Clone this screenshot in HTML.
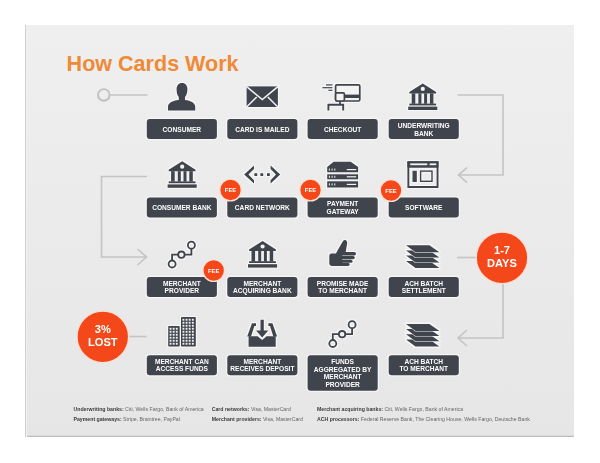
<!DOCTYPE html>
<html><head><meta charset="utf-8">
<style>
html,body{margin:0;padding:0;background:#fff;width:600px;height:463px;overflow:hidden;}
body{position:relative;font-family:"Liberation Sans",sans-serif;}
#slide{position:absolute;left:25px;top:25px;width:549.2px;height:411.7px;background:linear-gradient(to bottom,#efefef,#e6e6e6);box-shadow:inset 1px 0 0 #cfcfcf, inset 2px 0 0 #f1f1f1, inset 0 -1.2px 0 #bcbcbc;}
svg{position:absolute;left:0;top:0;}
.t{position:absolute;color:#fff;font-weight:bold;font-size:6.6px;line-height:7.4px;text-align:center;display:flex;align-items:center;justify-content:center;}
.title{position:absolute;left:66.6px;top:52px;font-size:21.55px;font-weight:bold;color:#ef8a36;white-space:nowrap;line-height:24px;}
.ft{position:absolute;font-size:5.2px;color:#666;white-space:nowrap;line-height:6px;}
.ft b{color:#3a3a3a;}
.big{position:absolute;color:#fff;font-weight:bold;font-size:11.1px;line-height:12.6px;text-align:center;}
.fee{position:absolute;color:#fff;font-weight:bold;font-size:5.8px;line-height:6px;text-align:center;width:20px;}
</style></head>
<body>
<div id="slide"></div>
<svg width="600" height="463" viewBox="0 0 600 463">
  <g fill="none" stroke="#c4c4c4" stroke-width="1.6">
    <circle cx="103.8" cy="94.9" r="5.8" stroke="#c0c0c0" stroke-width="1.9"/>
    <line x1="109.6" y1="95" x2="147.6" y2="95"/>
    <polyline points="457.5,95 503,95 503,175 458.5,175"/>
    <polyline points="467,167.6 458.5,175 467,182.6"/>
    <polyline points="147,176.5 101.5,176.5 101.5,257 146.5,257"/>
    <polyline points="137.5,249 146.5,257 137.5,265"/>
    <line x1="457" y1="257.5" x2="478" y2="257.5"/>
    <polyline points="503,282 503,338 458,338"/>
    <polyline points="467,330 458,338 467,346"/>
    <line x1="127" y1="336.5" x2="146.5" y2="336.5"/>
  </g>
  <!-- buttons -->
  <g fill="#f5f5f5">
    <rect x="145.5" y="117.6" width="72.7" height="22.6" rx="4.2"/>
    <rect x="226.0" y="117.6" width="72.7" height="22.6" rx="4.2"/>
    <rect x="306.3" y="117.6" width="72.7" height="22.6" rx="4.2"/>
    <rect x="387.4" y="117.6" width="72.7" height="22.6" rx="4.2"/>
    <rect x="145.5" y="196.2" width="72.7" height="22.6" rx="4.2"/>
    <rect x="226.0" y="196.2" width="72.7" height="22.6" rx="4.2"/>
    <rect x="306.3" y="196.2" width="72.7" height="22.6" rx="4.2"/>
    <rect x="387.4" y="196.2" width="72.7" height="22.6" rx="4.2"/>
    <rect x="145.5" y="275.8" width="72.7" height="22.6" rx="4.2"/>
    <rect x="226.0" y="275.8" width="72.7" height="22.6" rx="4.2"/>
    <rect x="306.3" y="275.8" width="72.7" height="22.6" rx="4.2"/>
    <rect x="387.4" y="275.8" width="72.7" height="22.6" rx="4.2"/>
    <rect x="145.5" y="353.9" width="72.7" height="22.6" rx="4.2"/>
    <rect x="226.0" y="353.9" width="72.7" height="22.6" rx="4.2"/>
    <rect x="306.3" y="353.9" width="72.7" height="38.2" rx="4.2"/>
    <rect x="387.4" y="353.9" width="72.7" height="22.6" rx="4.2"/>
  </g>
  <g fill="#40444c">
    <rect x="146.8" y="118.9" width="70.1" height="20.0" rx="3"/>
    <rect x="227.3" y="118.9" width="70.1" height="20.0" rx="3"/>
    <rect x="307.6" y="118.9" width="70.1" height="20.0" rx="3"/>
    <rect x="388.7" y="118.9" width="70.1" height="20.0" rx="3"/>
    <rect x="146.8" y="197.5" width="70.1" height="20.0" rx="3"/>
    <rect x="227.3" y="197.5" width="70.1" height="20.0" rx="3"/>
    <rect x="307.6" y="197.5" width="70.1" height="20.0" rx="3"/>
    <rect x="388.7" y="197.5" width="70.1" height="20.0" rx="3"/>
    <rect x="146.8" y="277.1" width="70.1" height="20.0" rx="3"/>
    <rect x="227.3" y="277.1" width="70.1" height="20.0" rx="3"/>
    <rect x="307.6" y="277.1" width="70.1" height="20.0" rx="3"/>
    <rect x="388.7" y="277.1" width="70.1" height="20.0" rx="3"/>
    <rect x="146.8" y="355.2" width="70.1" height="20.0" rx="3"/>
    <rect x="227.3" y="355.2" width="70.1" height="20.0" rx="3"/>
    <rect x="307.6" y="355.2" width="70.1" height="35.6" rx="3"/>
    <rect x="388.7" y="355.2" width="70.1" height="20.0" rx="3"/>
  </g>
  <defs>
  <filter id="halo" x="-10%" y="-10%" width="120%" height="120%" color-interpolation-filters="sRGB">
    <feMorphology in="SourceAlpha" operator="dilate" radius="1" result="d"/>
    <feGaussianBlur in="d" stdDeviation="0.5" result="b"/>
    <feFlood flood-color="#f7f7f7"/>
    <feComposite in2="b" operator="in" result="w"/>
    <feMerge><feMergeNode in="w"/><feMergeNode in="SourceGraphic"/></feMerge>
  </filter>
  </defs>
  <g filter="url(#halo)">
  <!-- icons -->
  <g fill="#40444c">
    <!-- person -->
    <path d="M182 83 C185.5 83 187.5 85.6 187.4 89.5 C187.3 93 186.4 95.4 185 97 L185 100 C190.8 100.8 194.8 102.8 195.2 106.2 L195.2 110.5 L168 110.5 L168 106.2 C168.4 102.8 172.4 100.8 178.8 100 L178.8 97 C177.4 95.4 176.6 93 176.6 89.5 C176.6 85.6 178.5 83 182 83 Z"/>
    <!-- envelope -->
    <rect x="246.6" y="86.4" width="31.3" height="20.6"/>
    <!-- bank row1 -->
    <path d="M422.8 83.4 L436.1 92 L436.1 93.4 L409.3 93.4 L409.3 92 Z"/>
    <rect x="411.7" y="93.4" width="3.6" height="10.4"/>
    <rect x="418.4" y="93.4" width="3" height="10.4"/>
    <rect x="424.1" y="93.4" width="3" height="10.4"/>
    <rect x="429.9" y="93.4" width="3.5" height="10.4"/>
    <rect x="409.3" y="103.6" width="26.8" height="1.8"/>
    <rect x="408.2" y="106.6" width="29.1" height="3.4"/>
    <!-- bank row2 (consumer bank) -->
    <g transform="translate(-240.6,77.8)">
    <path d="M422.8 83.4 L436.1 92 L436.1 93.4 L409.3 93.4 L409.3 92 Z"/>
    <rect x="411.7" y="93.4" width="3.6" height="10.4"/>
    <rect x="418.4" y="93.4" width="3" height="10.4"/>
    <rect x="424.1" y="93.4" width="3" height="10.4"/>
    <rect x="429.9" y="93.4" width="3.5" height="10.4"/>
    <rect x="409.3" y="103.6" width="26.8" height="1.8"/>
    <rect x="408.2" y="106.6" width="29.1" height="3.4"/>
    </g>
    <!-- bank row3 (acquiring bank) -->
    <g transform="translate(-160.2,157.6)">
    <path d="M422.8 83.4 L436.1 92 L436.1 93.4 L409.3 93.4 L409.3 92 Z"/>
    <rect x="411.7" y="93.4" width="3.6" height="10.4"/>
    <rect x="418.4" y="93.4" width="3" height="10.4"/>
    <rect x="424.1" y="93.4" width="3" height="10.4"/>
    <rect x="429.9" y="93.4" width="3.5" height="10.4"/>
    <rect x="409.3" y="103.6" width="26.8" height="1.8"/>
    <rect x="408.2" y="106.6" width="29.1" height="3.4"/>
    </g>
    <!-- card network -->
    <path d="M244.2 174.6 L254 165.6 L254 168.9 L248.4 174.6 L254 180.3 L254 183.6 Z"/>
    <path d="M280.2 174.6 L270.6 165.6 L270.6 168.9 L276 174.6 L270.6 180.3 L270.6 183.6 Z"/>
    <rect x="254.4" y="173.2" width="2.8" height="2.8"/>
    <rect x="260.4" y="173.2" width="2.8" height="2.8"/>
    <rect x="267" y="173.2" width="2.8" height="2.8"/>
    <!-- server stack -->
    <path d="M333.6 161.8 L350.7 161.8 L358.1 166.9 L358.1 172.3 L327.2 172.3 L327.2 166.9 Z"/>
    <rect x="327.2" y="174.3" width="30.9" height="5"/>
    <rect x="327.2" y="181.3" width="30.9" height="6.2"/>
    <!-- thumbs up -->
    <path d="M335.4 254.8 C337.8 250 340.8 244.5 342.8 241.5 C343.6 240.2 344.8 239.8 345.8 240.3 C347.3 241 347.4 243 346.9 244.8 L345.6 252.6 Z"/>
    <rect x="329.3" y="253.4" width="13" height="12.5" rx="2.4"/>
    <rect x="338" y="252" width="18" height="3.5" rx="1.75"/>
    <rect x="338" y="255.9" width="16.8" height="3.4" rx="1.7"/>
    <rect x="338" y="259.7" width="14.5" height="3.1" rx="1.55"/>
    <rect x="336" y="263.1" width="13.6" height="2.8" rx="1.4"/>
    <!-- inbox -->
    <path d="M260.5 319.7 L263.8 319.7 L263.8 330.4 L268.3 330.4 L262.2 337.4 L256 330.4 L260.5 330.4 Z"/>
    <path d="M248.6 336.2 L257.6 336.2 L262.2 339.9 L266.6 336.2 L275.7 336.2 L275.7 346.8 L248.6 346.8 Z"/>
    <path d="M256 323.2 L252 323.2 L247.2 336.6 L251 336.6 L254.4 326 L256 326 Z"/>
    <path d="M268.4 323.2 L272.4 323.2 L277.1 336.6 L273.3 336.6 L270 326 L268.4 326 Z"/>
  </g>
  <!-- icon details (white / strokes) -->
  <g fill="none" stroke="#f4f4f4" stroke-width="1.5">
    <polyline points="246.6,86.6 262.3,99.6 277.9,86.6"/>
    <line x1="246.6" y1="107" x2="256.7" y2="97"/>
    <line x1="277.9" y1="107" x2="267.8" y2="97"/>
  </g>
  <g fill="#f4f4f4">
    <circle cx="422.8" cy="88.9" r="2.1"/>
    <circle cx="182.2" cy="166.7" r="2.1"/>
    <circle cx="262.6" cy="246.5" r="2.1"/>
    <!-- server dots -->
    <rect x="328.9" y="168.6" width="1" height="2"/><rect x="331.6" y="168.6" width="1" height="2"/><rect x="334.3" y="168.6" width="1" height="2"/>
    <rect x="346.8" y="169" width="9.4" height="1.2"/>
    <rect x="328.9" y="175.8" width="1" height="2"/><rect x="331.6" y="175.8" width="1" height="2"/><rect x="334.3" y="175.8" width="1" height="2"/>
    <rect x="346.8" y="176.2" width="9.4" height="1.2"/>
    <rect x="328.9" y="183.4" width="1" height="2"/><rect x="331.6" y="183.4" width="1" height="2"/><rect x="334.3" y="183.4" width="1" height="2"/>
    <rect x="346.8" y="183.8" width="9.4" height="1.2"/>
  </g>
  <!-- software window -->
  <g fill="#40444c">
    <path d="M407.4 161.3 H438.5 V187.9 H407.4 Z M409.3 167.5 V186 H436.6 V167.5 Z" fill-rule="evenodd"/>
    <path d="M407.4 161.3 H438.5 V167.5 H407.4 Z"/>
    <rect x="412.5" y="170.8" width="4.3" height="11.2"/>
  </g>
  <g fill="#f4f4f4">
    <rect x="410.2" y="163.4" width="17.1" height="1.8"/>
    <rect x="429.6" y="163.4" width="6.6" height="1.8"/>
  </g>
  <rect x="420.6" y="171.1" width="11.4" height="10.2" fill="none" stroke="#40444c" stroke-width="1.4"/>
  <!-- checkout -->
  <g fill="#f3f3f3" stroke="#40444c" stroke-width="1.7">
    <rect x="335.6" y="84.8" width="24.2" height="16.2" rx="1.4"/>
    <rect x="335.6" y="92.8" width="8.8" height="8.2" rx="1.4"/>
  </g>
  <g fill="none" stroke="#40444c">
    <line x1="340" y1="101.6" x2="340" y2="104.6" stroke-width="1.8"/>
    <path d="M328.4 110.4 V104.8 H343.2 V110.4" stroke-width="1.9"/>
    <line x1="326" y1="84.9" x2="332.4" y2="84.9" stroke-width="1.2"/>
    <line x1="322.4" y1="87.7" x2="332.4" y2="87.7" stroke-width="1.2"/>
    <line x1="328.4" y1="90.3" x2="332.4" y2="90.3" stroke-width="1.2"/>
  </g>
  <rect x="344.4" y="94.6" width="15.4" height="3.4" fill="#40444c"/>
  <!-- nodes icons -->
  <g fill="none" stroke="#40444c" stroke-width="1.8">
    <circle cx="172.1" cy="264" r="3.5"/>
    <circle cx="181.4" cy="254.7" r="3.2"/>
    <circle cx="191.4" cy="245.2" r="3.5"/>
    <polyline points="172.1,260.5 172.1,254.7 178.2,254.7"/>
    <polyline points="184.6,254.7 191.4,254.7 191.4,248.7"/>
    <g transform="translate(160.7,79.5)">
    <circle cx="172.1" cy="264" r="3.5"/>
    <circle cx="181.4" cy="254.7" r="3.2"/>
    <circle cx="191.4" cy="245.2" r="3.5"/>
    <polyline points="172.1,260.5 172.1,254.7 178.2,254.7"/>
    <polyline points="184.6,254.7 191.4,254.7 191.4,248.7"/>
    </g>
  </g>
  <!-- layers -->
  <g>
    <path fill="#f5f5f5" d="M405.5 260.3 L429.6 260.3 L440.1 268.4 L415.1 268.4 Z"/><path fill="#40444c" d="M406.0 260.9 L429.4 260.9 L439.4 267.9 L415.5 267.9 Z"/>
    <path fill="#f5f5f5" d="M405.5 255.0 L429.6 255.0 L440.1 263.1 L415.1 263.1 Z"/><path fill="#40444c" d="M406.0 255.6 L429.4 255.6 L439.4 262.6 L415.5 262.6 Z"/>
    <path fill="#f5f5f5" d="M405.5 249.8 L429.6 249.8 L440.1 257.9 L415.1 257.9 Z"/><path fill="#40444c" d="M406.0 250.4 L429.4 250.4 L439.4 257.4 L415.5 257.4 Z"/>
    <path fill="#f5f5f5" d="M405.5 244.8 L429.6 244.8 L440.1 252.8 L415.1 252.8 Z"/><path fill="#40444c" d="M406.0 245.3 L429.4 245.3 L439.4 252.3 L415.5 252.3 Z"/>
    <g transform="translate(0,78.6)">
    <path fill="#f5f5f5" d="M405.5 260.3 L429.6 260.3 L440.1 268.4 L415.1 268.4 Z"/><path fill="#40444c" d="M406.0 260.9 L429.4 260.9 L439.4 267.9 L415.5 267.9 Z"/>
    <path fill="#f5f5f5" d="M405.5 255.0 L429.6 255.0 L440.1 263.1 L415.1 263.1 Z"/><path fill="#40444c" d="M406.0 255.6 L429.4 255.6 L439.4 262.6 L415.5 262.6 Z"/>
    <path fill="#f5f5f5" d="M405.5 249.8 L429.6 249.8 L440.1 257.9 L415.1 257.9 Z"/><path fill="#40444c" d="M406.0 250.4 L429.4 250.4 L439.4 257.4 L415.5 257.4 Z"/>
    <path fill="#f5f5f5" d="M405.5 244.8 L429.6 244.8 L440.1 252.8 L415.1 252.8 Z"/><path fill="#40444c" d="M406.0 245.3 L429.4 245.3 L439.4 252.3 L415.5 252.3 Z"/>
    </g>
  </g>
  <!-- buildings -->
  <g fill="#40444c">
    <rect x="168.2" y="326" width="11.5" height="20.5" rx="0.8"/>
    <rect x="181" y="316.9" width="14.8" height="29.6" rx="0.8"/>
  </g>
  <g fill="#f0f0f0"><rect x="169.6" y="327.8" width="1.9" height="1.9"/><rect x="172.7" y="327.8" width="1.9" height="1.9"/><rect x="175.8" y="327.8" width="1.9" height="1.9"/><rect x="169.6" y="330.8" width="1.9" height="1.9"/><rect x="172.7" y="330.8" width="1.9" height="1.9"/><rect x="175.8" y="330.8" width="1.9" height="1.9"/><rect x="169.6" y="333.8" width="1.9" height="1.9"/><rect x="172.7" y="333.8" width="1.9" height="1.9"/><rect x="175.8" y="333.8" width="1.9" height="1.9"/><rect x="169.6" y="336.8" width="1.9" height="1.9"/><rect x="172.7" y="336.8" width="1.9" height="1.9"/><rect x="175.8" y="336.8" width="1.9" height="1.9"/><rect x="169.6" y="339.8" width="1.9" height="1.9"/><rect x="172.7" y="339.8" width="1.9" height="1.9"/><rect x="175.8" y="339.8" width="1.9" height="1.9"/><rect x="169.6" y="342.8" width="1.9" height="1.9"/><rect x="172.7" y="342.8" width="1.9" height="1.9"/><rect x="175.8" y="342.8" width="1.9" height="1.9"/><rect x="182.5" y="318.8" width="1.9" height="1.9"/><rect x="185.6" y="318.8" width="1.9" height="1.9"/><rect x="188.7" y="318.8" width="1.9" height="1.9"/><rect x="191.9" y="318.8" width="1.9" height="1.9"/><rect x="182.5" y="321.8" width="1.9" height="1.9"/><rect x="185.6" y="321.8" width="1.9" height="1.9"/><rect x="188.7" y="321.8" width="1.9" height="1.9"/><rect x="191.9" y="321.8" width="1.9" height="1.9"/><rect x="182.5" y="324.8" width="1.9" height="1.9"/><rect x="185.6" y="324.8" width="1.9" height="1.9"/><rect x="188.7" y="324.8" width="1.9" height="1.9"/><rect x="191.9" y="324.8" width="1.9" height="1.9"/><rect x="182.5" y="327.8" width="1.9" height="1.9"/><rect x="185.6" y="327.8" width="1.9" height="1.9"/><rect x="188.7" y="327.8" width="1.9" height="1.9"/><rect x="191.9" y="327.8" width="1.9" height="1.9"/><rect x="182.5" y="330.8" width="1.9" height="1.9"/><rect x="185.6" y="330.8" width="1.9" height="1.9"/><rect x="188.7" y="330.8" width="1.9" height="1.9"/><rect x="191.9" y="330.8" width="1.9" height="1.9"/><rect x="182.5" y="333.8" width="1.9" height="1.9"/><rect x="185.6" y="333.8" width="1.9" height="1.9"/><rect x="188.7" y="333.8" width="1.9" height="1.9"/><rect x="191.9" y="333.8" width="1.9" height="1.9"/><rect x="182.5" y="336.8" width="1.9" height="1.9"/><rect x="185.6" y="336.8" width="1.9" height="1.9"/><rect x="188.7" y="336.8" width="1.9" height="1.9"/><rect x="191.9" y="336.8" width="1.9" height="1.9"/><rect x="182.5" y="339.8" width="1.9" height="1.9"/><rect x="185.6" y="339.8" width="1.9" height="1.9"/><rect x="188.7" y="339.8" width="1.9" height="1.9"/><rect x="191.9" y="339.8" width="1.9" height="1.9"/><rect x="182.5" y="342.8" width="1.9" height="1.9"/><rect x="185.6" y="342.8" width="1.9" height="1.9"/><rect x="188.7" y="342.8" width="1.9" height="1.9"/><rect x="191.9" y="342.8" width="1.9" height="1.9"/></g>
  </g>
  <!-- big circles -->
  <g fill="#f4481b" stroke="#fbe0d4" stroke-width="1.4">
    <circle cx="502" cy="257.8" r="25.8"/>
    <circle cx="102.8" cy="336.8" r="25.8"/>
  </g>
  <!-- fee badges -->
  <g fill="#f4481b" stroke="#fce2d6" stroke-width="1.4">
    <circle cx="230.5" cy="190" r="10.85"/>
    <circle cx="310.5" cy="190" r="10.85"/>
    <circle cx="391" cy="190.5" r="10.85"/>
    <circle cx="213.7" cy="270.5" r="10.85"/>
  </g>
</svg>

<div class="title">How Cards Work</div>


<div class="t" style="left:146.8px;top:119.7px;width:70.1px;height:20.0px;">CONSUMER</div>
<div class="t" style="left:227.3px;top:119.7px;width:70.1px;height:20.0px;">CARD IS MAILED</div>
<div class="t" style="left:307.6px;top:119.7px;width:70.1px;height:20.0px;">CHECKOUT</div>
<div class="t" style="left:388.7px;top:119.7px;width:70.1px;height:20.0px;">UNDERWRITING<br>BANK</div>
<div class="t" style="left:146.8px;top:197.5px;width:70.1px;height:20.0px;">CONSUMER BANK</div>
<div class="t" style="left:227.3px;top:197.5px;width:70.1px;height:20.0px;">CARD NETWORK</div>
<div class="t" style="left:307.6px;top:197.5px;width:70.1px;height:20.0px;">PAYMENT<br>GATEWAY</div>
<div class="t" style="left:388.7px;top:197.5px;width:70.1px;height:20.0px;">SOFTWARE</div>
<div class="t" style="left:146.8px;top:277.4px;width:70.1px;height:20.0px;">MERCHANT<br>PROVIDER</div>
<div class="t" style="left:227.3px;top:277.4px;width:70.1px;height:20.0px;">MERCHANT<br>ACQUIRING BANK</div>
<div class="t" style="left:307.6px;top:277.4px;width:70.1px;height:20.0px;">PROMISE MADE<br>TO MERCHANT</div>
<div class="t" style="left:388.7px;top:277.4px;width:70.1px;height:20.0px;">ACH BATCH<br>SETTLEMENT</div>
<div class="t" style="left:146.8px;top:355.2px;width:70.1px;height:20.0px;">MERCHANT CAN<br>ACCESS FUNDS</div>
<div class="t" style="left:227.3px;top:355.2px;width:70.1px;height:20.0px;">MERCHANT<br>RECEIVES DEPOSIT</div>
<div class="t" style="left:307.6px;top:355.6px;width:70.1px;height:35.6px;line-height:7.75px;">FUNDS<br>AGGREGATED BY<br>MERCHANT<br>PROVIDER</div>
<div class="t" style="left:388.7px;top:355.2px;width:70.1px;height:20.0px;">ACH BATCH<br>TO MERCHANT</div>

<div class="fee" style="left:220.5px;top:187px;">FEE</div>
<div class="fee" style="left:300.5px;top:187px;">FEE</div>
<div class="fee" style="left:381px;top:187.5px;">FEE</div>
<div class="fee" style="left:203.7px;top:267.5px;">FEE</div>

<div class="big" style="left:477px;top:244.2px;width:50px;">1-7<br>DAYS</div>
<div class="big" style="left:77.8px;top:323.2px;width:50px;">3%<br>LOST</div>

<div class="ft" style="left:73.5px;top:406px;"><b>Underwriting banks:</b> Citi, Wells Fargo, Bank of America</div>
<div class="ft" style="left:73.5px;top:416.1px;"><b>Payment gateways:</b> Stripe, Braintree, PayPal</div>
<div class="ft" style="left:211.7px;top:406px;"><b>Card networks:</b> Visa, MasterCard</div>
<div class="ft" style="left:211.7px;top:416.1px;"><b>Merchant providers:</b> Visa, MasterCard</div>
<div class="ft" style="left:317px;top:406px;"><b>Merchant acquiring banks:</b> Citi, Wells Fargo, Bank of America</div>
<div class="ft" style="left:317px;top:416.1px;"><b>ACH processors:</b> Federal Reserve Bank, The Clearing House, Wells Fargo, Deutsche Bank</div>
</body></html>
